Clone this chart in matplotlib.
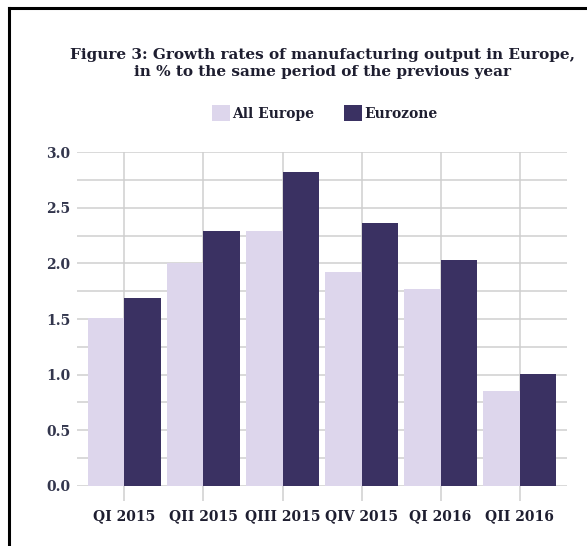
import matplotlib.pyplot as plt
import numpy as np
from matplotlib.lines import Line2D
from matplotlib.ticker import MultipleLocator

quarters = ["QI 2015", "QII 2015", "QIII 2015", "QIV 2015", "QI 2016", "QII 2016"]
all_europe = [1.51, 2.00, 2.29, 1.92, 1.77, 0.85]
eurozone = [1.69, 2.29, 2.82, 2.36, 2.03, 1.01]

light = '#ddd6ec'
dark = '#3a3162'
grid_c = '#cfcfcf'
text_c = '#1e1e30'

plt.rcParams['font.family'] = ['DejaVu Serif']
plt.rcParams['font.weight'] = 'bold'

fig = plt.figure(figsize=(5.87, 5.46), dpi=100)
ax = fig.add_axes([0.1312, 0.1099, 0.8348, 0.6117])

x = np.arange(len(quarters))
w = 0.46
ax.bar(x - w/2, all_europe, w, color=light, label='All Europe', zorder=2)
ax.bar(x + w/2, eurozone, w, color=dark, label='Eurozone', zorder=2)

ax.set_xlim(-0.6, len(quarters) - 0.4)
ax.set_ylim(0, 3.0)
ax.yaxis.set_major_locator(MultipleLocator(0.5))
ax.yaxis.set_minor_locator(MultipleLocator(0.25))
ax.set_xticks(x)
ax.set_xticklabels(quarters)
ax.grid(True, which='both', axis='y', color=grid_c, linewidth=1.1, zorder=0)
ax.grid(True, which='major', axis='x', color=grid_c, linewidth=1.1, zorder=0)
ax.set_axisbelow(True)
for s in ax.spines.values():
    s.set_visible(False)
ax.tick_params(axis='x', length=11, color=grid_c, width=1.1, pad=6, labelsize=10, labelcolor=text_c)
ax.tick_params(axis='y', which='both', length=0, pad=5, labelsize=10, labelcolor='#33364d')
ax.yaxis.set_major_formatter(plt.FuncFormatter(lambda v, p: f"{v:.1f}"))

fig.text(0.549, 0.884, "Figure 3: Growth rates of manufacturing output in Europe,\nin % to the same period of the previous year",
         ha='center', va='center', fontsize=11, fontweight='bold', color=text_c, linespacing=1.3)

fig.legend(loc='center', bbox_to_anchor=(0.553, 0.793), ncol=2, frameon=False,
           fontsize=10, handlelength=1.3, handleheight=1.3, handletextpad=0.15,
           columnspacing=2.2, labelcolor=text_c)

# frame lines (only top and left visible in the crop)
fig.add_artist(Line2D([0.0145, 1.0], [1 - 7.5/546, 1 - 7.5/546], color='black', linewidth=2.2))
fig.add_artist(Line2D([8.5/587, 8.5/587], [0.0, 1 - 7.5/546], color='black', linewidth=2.2))

fig.savefig("out.png", dpi=100)
